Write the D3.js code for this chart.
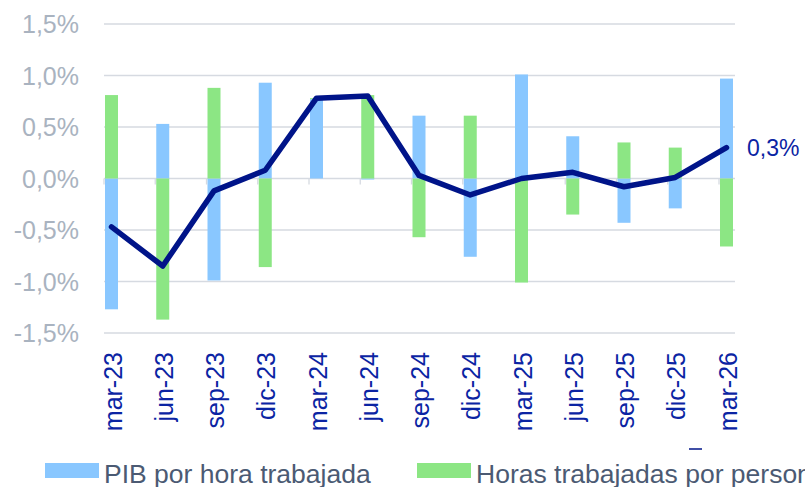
<!DOCTYPE html>
<html>
<head>
<meta charset="utf-8">
<script src="https://cdn.jsdelivr.net/npm/d3@7"></script>
<style>
  html, body { margin: 0; padding: 0; background: #fff; }
  svg { display: block; font-family: "Liberation Sans", Arial, sans-serif; }
</style>
</head>
<body>
<svg id="chart" width="805" height="487"></svg>
<script>
const categories = ['mar-23', 'jun-23', 'sep-23', 'dic-23', 'mar-24', 'jun-24', 'sep-24',
  'dic-24', 'mar-25', 'jun-25', 'sep-25', 'dic-25', 'mar-26'];
const pibPorHora = [-1.27, 0.53, -0.99, 0.93, 0.77, -0.01, 0.61, -0.76, 1.01, 0.41, -0.43, -0.29, 0.97];
const horasPorPersona = [0.81, -1.37, 0.88, -0.86, 0.01, 0.81, -0.57, 0.61, -1.01, -0.35, 0.35, 0.30, -0.66];
const totalLine = [-0.47, -0.85, -0.12, 0.08, 0.78, 0.80, 0.03, -0.16, 0.00, 0.06, -0.08, 0.01, 0.30];
const yTicks = [-1.5, -1.0, -0.5, 0.0, 0.5, 1.0, 1.5];
const legendLabels = ['PIB por hora trabajada', 'Horas trabajadas por persona'];

const colors = { pib: '#89c7ff', horas: '#8ce684', line: '#001489', label: '#0b24a3' };
const svg = d3.select('#chart');

const plot = { left: 104, right: 735, top: 24, bottom: 333 };

// Scales: quarterly points on a monthly date axis, last point 16px before the edge
const x = d3.scalePoint()
  .domain(categories)
  .range([plot.left, plot.right - 16]);

const y = d3.scaleLinear()
  .domain([-1.5, 1.5])
  .range([plot.bottom, plot.top]);

const fmt = v => `${d3.format('.1f')(v).replace('.', ',').replace('−', '-')}%`;

// Gridlines
svg.append('g')
  .attr('class', 'gridY')
  .selectAll('line')
  .data(yTicks)
  .enter().append('line')
  .attr('x1', plot.left)
  .attr('x2', plot.right)
  .attr('y1', d => y(d))
  .attr('y2', d => y(d))
  .attr('stroke', '#d6dae1')
  .attr('stroke-width', 1.3);

// Y tick labels
svg.append('g')
  .attr('class', 'y axis')
  .selectAll('text')
  .data(yTicks)
  .enter().append('text')
  .attr('x', 79)
  .attr('y', d => y(d))
  .attr('dy', '0.36em')
  .attr('text-anchor', 'end')
  .attr('fill', '#a9b3c0')
  .style('font-size', '25px')
  .text(fmt);

// Small ticks on the zero line
svg.append('g')
  .attr('class', 'x ticks')
  .selectAll('line')
  .data(categories)
  .enter().append('line')
  .attr('x1', d => x(d))
  .attr('x2', d => x(d))
  .attr('y1', y(0))
  .attr('y2', y(0) + 6)
  .attr('stroke', '#d6dae1')
  .attr('stroke-width', 1.3);

// Stacked bars (positive and negative parts start from zero)
const rows = categories.map((c, i) => ({ cat: c, pib: pibPorHora[i], horas: horasPorPersona[i] }));
const series = d3.stack()
  .keys(['pib', 'horas'])
  .offset(d3.stackOffsetDiverging)(rows);

const barWidth = 13;
svg.append('g')
  .attr('class', 'bars')
  .selectAll('g')
  .data(series)
  .enter().append('g')
  .attr('fill', d => colors[d.key])
  .selectAll('rect')
  .data(d => d)
  .enter().append('rect')
  .attr('x', d => x(d.data.cat) + 1)
  .attr('width', barWidth)
  .attr('y', d => y(Math.max(d[0], d[1])))
  .attr('height', d => Math.abs(y(d[0]) - y(d[1])));

// Total line
const line = d3.line()
  .x((d, i) => x(categories[i]) + 1 + barWidth / 2)
  .y(d => y(d));

svg.append('path')
  .datum(totalLine)
  .attr('fill', 'none')
  .attr('stroke', colors.line)
  .attr('stroke-width', 5.5)
  .attr('stroke-linejoin', 'round')
  .attr('stroke-linecap', 'round')
  .attr('d', line);

// Label of the last value
const last = totalLine.length - 1;
svg.append('text')
  .attr('x', x(categories[last]) + 28)
  .attr('y', y(totalLine[last]))
  .attr('dy', '0.36em')
  .attr('fill', colors.label)
  .style('font-size', '23px')
  .text(fmt(totalLine[last]));

// X labels, rotated
svg.append('g')
  .attr('class', 'x axis')
  .selectAll('text')
  .data(categories)
  .enter().append('text')
  .attr('transform', d => `translate(${x(d) + 17.5}, 352) rotate(-90)`)
  .attr('text-anchor', 'end')
  .attr('fill', colors.label)
  .style('font-size', '25px')
  .text(d => d);

// Legend (the second label runs past the right edge, as in the source)
const legend = svg.append('g').attr('class', 'legend');
const legendItems = [
  { label: legendLabels[0], color: colors.pib, x: 45 },
  { label: legendLabels[1], color: colors.horas, x: 417 }
];
legendItems.forEach((item) => {
  legend.append('rect')
    .attr('x', item.x)
    .attr('y', 463)
    .attr('width', 54)
    .attr('height', 15)
    .attr('fill', item.color);
  legend.append('text')
    .attr('x', item.x + 59)
    .attr('y', 483)
    .attr('fill', '#4b5a73')
    .style('font-size', '26.5px')
    .text(item.label);
});
// Leftover marker of the line series in the legend
legend.append('line')
  .attr('x1', 689)
  .attr('x2', 702)
  .attr('y1', 449)
  .attr('y2', 449)
  .attr('stroke', colors.line)
  .attr('stroke-width', 1.5);
</script>
</body>
</html>
